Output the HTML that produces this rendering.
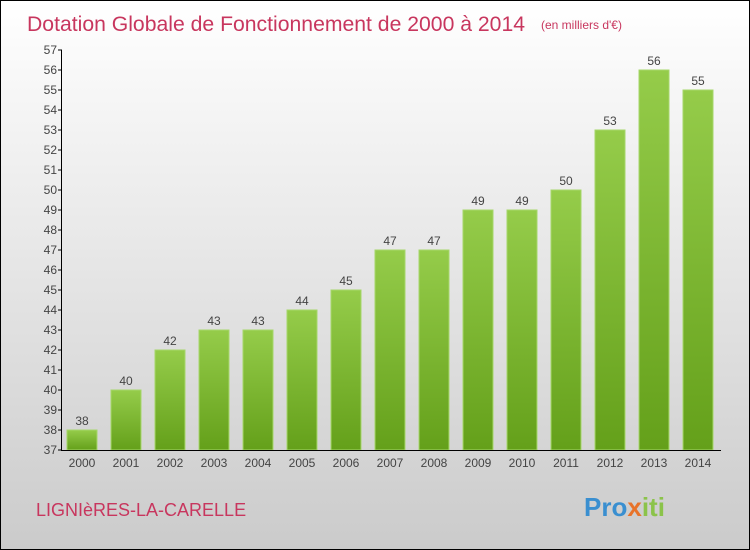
<!DOCTYPE html>
<html><head><meta charset="utf-8"><style>
body{margin:0}
#c{width:748px;height:548px;border:1px solid #000;background:linear-gradient(#fff,#cbcbcb);position:relative;font-family:"Liberation Sans",sans-serif;overflow:hidden}
</style></head><body>
<div id="c">
<svg width="748" height="548" id="s">
<defs><linearGradient id="g" x1="0" y1="0" x2="0" y2="1"><stop offset="0" stop-color="#95cc4a"/><stop offset="1" stop-color="#64a01a"/></linearGradient></defs>
<text x="26" y="30" font-size="21" fill="#c8365e" textLength="498" lengthAdjust="spacingAndGlyphs">Dotation Globale de Fonctionnement de 2000 à 2014</text>
<text x="540" y="28" font-size="12" fill="#c8365e">(en milliers d'€)</text>
<text x="35" y="515" font-size="18" fill="#c8365e">LIGNIèRES-LA-CARELLE</text>
<text x="583" y="515" font-size="26" font-weight="bold" fill="#3a8fd0">Pro<tspan fill="#e8732a">x</tspan><tspan fill="#8bc34a">iti</tspan></text>
<g id="plot"></g>
</svg></div>
<script>
const years=["2000","2001","2002","2003","2004","2005","2006","2007","2008","2009","2010","2011","2012","2013","2014"];
const values=[38,40,42,43,43,44,45,47,47,49,49,50,53,56,55];
const yTicks=[37,38,39,40,41,42,43,44,45,46,47,48,49,50,51,52,53,54,55,56,57];
const ns="http://www.w3.org/2000/svg",p=document.getElementById('plot');
const y=v=>449-(v-37)*20, x=i=>81+i*44;
function mk(t,a,txt){const e=document.createElementNS(ns,t);for(const k in a)e.setAttribute(k,a[k]);if(txt!=null)e.textContent=txt;p.appendChild(e);return e;}
values.forEach((v,i)=>{
 const r=mk('rect',{x:x(i)-15,y:y(v),width:30,height:449-y(v),fill:'url(#g)',stroke:'#a6d76a','stroke-width':1});
 
 
 const l=mk('text',{x:x(i),y:y(v)-5,'font-size':12,fill:'#444','text-anchor':'middle'},v);
 
 
 const t=mk('text',{x:x(i),y:466,'font-size':12,fill:'#444','text-anchor':'middle'},years[i]);
 
 
});
yTicks.forEach(v=>{
 mk('line',{x1:57,x2:61,y1:y(v),y2:y(v),stroke:'#000'});
 const t=mk('text',{x:56,y:y(v)+4,'font-size':12,fill:'#444','text-anchor':'end'},v);
 
 
});
const ya=mk('line',{x1:60.5,x2:60.5,y1:49,y2:450,stroke:'#000'});


const xa=mk('line',{x1:60,x2:720,y1:449.5,y2:449.5,stroke:'#000'});


</script>
</body></html>
